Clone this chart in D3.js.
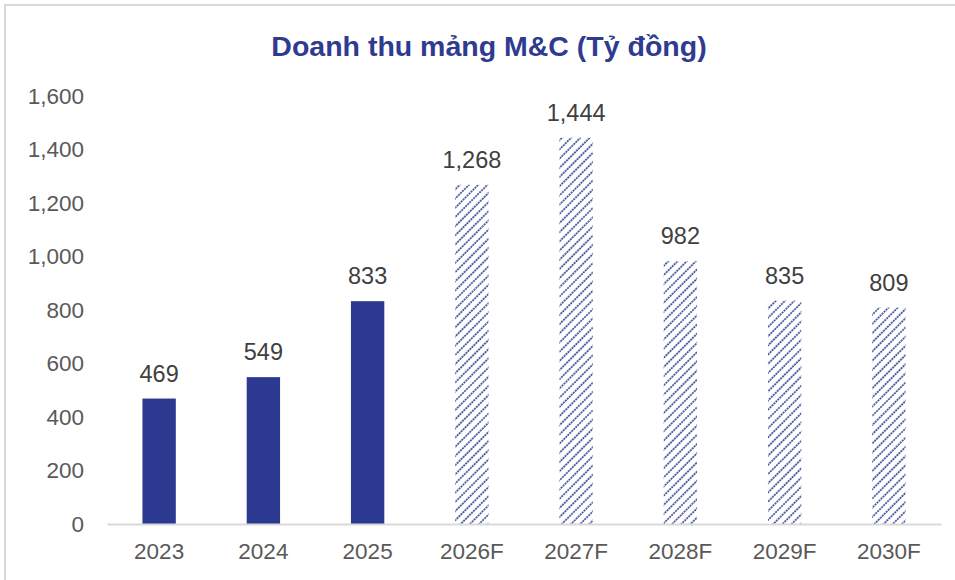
<!DOCTYPE html>
<html>
<head>
<meta charset="utf-8">
<script src="https://cdn.jsdelivr.net/npm/d3@7"></script>
<style>
	body { margin: 0; background: #fff; }
	svg text { font-family: Arial, "Liberation Sans", sans-serif; }
</style>
</head>
<body>
<svg id="chart" width="955" height="580"></svg>
<script>
// chart data
var years = ["2023", "2024", "2025", "2026F", "2027F", "2028F", "2029F", "2030F"];
var revenue = [469, 549, 833, 1268, 1444, 982, 835, 809];
var isForecast = [false, false, false, true, true, true, true, true];
var yTicks = [0, 200, 400, 600, 800, 1000, 1200, 1400, 1600];
var title = "Doanh thu mảng M&C (Tỷ đồng)";

var navy = "#2b3990";
var margin = {top: 95, right: 14, bottom: 57, left: 107},
	width = 955 - margin.left - margin.right,
	height = 580 - margin.top - margin.bottom;

var svg = d3.select("#chart");

// hatch pattern for forecast bars (dotted diagonal lines)
var defs = svg.append("defs");
defs.append("pattern")
	.attr("id", "hatch")
	.attr("patternUnits", "userSpaceOnUse")
	.attr("width", 6.5)
	.attr("height", 5.6)
	.attr("patternTransform", "rotate(45)")
	.append("line")
		.attr("x1", 1).attr("y1", 0)
		.attr("x2", 1).attr("y2", 5.6)
		.attr("stroke", navy)
		.attr("stroke-width", 1.5)
		.attr("stroke-dasharray", "2 0.8");

// outer border of the chart area
svg.append("rect")
	.attr("x", 5).attr("y", 5)
	.attr("width", 1000).attr("height", 1000)
	.attr("fill", "none")
	.attr("stroke", "#d9d9d9")
	.attr("stroke-width", 2);

svg.append("text")
	.attr("x", 489)
	.attr("y", 56)
	.attr("text-anchor", "middle")
	.style("font-size", "28.5px")
	.style("font-weight", "bold")
	.attr("fill", "#2e3b8f")
	.text(title);

var g = svg.append("g")
	.attr("transform", "translate(" + margin.left + "," + margin.top + ")");

var x = d3.scaleBand()
	.domain(years)
	.range([0, width])
	.paddingInner(0.68)
	.paddingOuter(0.34);

var y = d3.scaleLinear()
	.domain([0, 1600])
	.range([height + 1, 1]);

var data = years.map(function(d, i) {
	return {year: d, value: revenue[i], forecast: isForecast[i]};
});

// bars
g.selectAll(".bar")
	.data(data)
	.enter().append("rect")
	.attr("class", "bar")
	.attr("x", function(d) { return x(d.year); })
	.attr("width", x.bandwidth())
	.attr("y", function(d) { return y(d.value); })
	.attr("height", function(d) { return y(0) - y(d.value); })
	.attr("fill", function(d) { return d.forecast ? "url(#hatch)" : navy; });

// value labels
g.selectAll(".val")
	.data(data)
	.enter().append("text")
	.attr("class", "val")
	.attr("x", function(d) { return x(d.year) + x.bandwidth() / 2; })
	.attr("y", function(d) { return y(d.value) - 17; })
	.attr("text-anchor", "middle")
	.style("font-size", "23.5px")
	.attr("fill", "#404040")
	.text(function(d) { return d3.format(",")(d.value); });

// x axis
var xAxis = g.append("g")
	.attr("transform", "translate(0," + y(0) + ")")
	.call(d3.axisBottom(x).tickSize(0).tickPadding(19));
xAxis.select(".domain").attr("stroke", "#d9d9d9").attr("stroke-width", 2);
xAxis.selectAll("text")
	.style("font-size", "22.5px")
	.attr("fill", "#595959");

// y axis
var yAxis = g.append("g")
	.attr("transform", "translate(-23,0)")
	.call(d3.axisLeft(y).tickValues(yTicks).tickSize(0).tickPadding(0).tickFormat(d3.format(",")));
yAxis.select(".domain").remove();
yAxis.selectAll("text")
	.style("font-size", "22.5px")
	.attr("fill", "#595959");
</script>
</body>
</html>
